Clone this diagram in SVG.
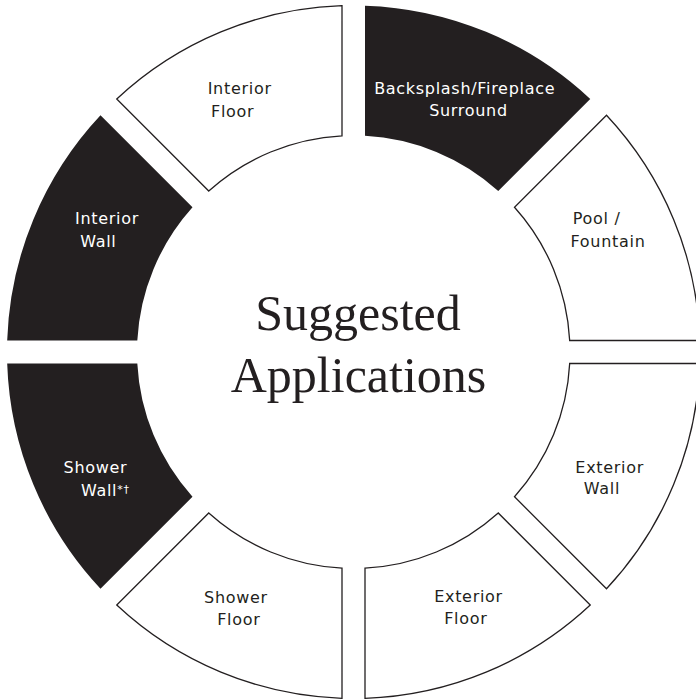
<svg xmlns="http://www.w3.org/2000/svg" width="696" height="699" viewBox="0 0 696 699">
<style>
.dark{fill:#231f20;stroke:none}
.light{fill:#fff;stroke:#231f20;stroke-width:1.3;stroke-linejoin:miter}
.lbl{font-family:"DejaVu Sans","Liberation Sans",sans-serif;font-size:16px;letter-spacing:0.7px;text-anchor:middle}
.lbl-d{fill:#fff}
.lbl-l{fill:#231f20}
.title{font-family:"Liberation Serif","Times New Roman",serif;font-size:50px;fill:#231f20;text-anchor:middle}
</style>
<rect width="696" height="699" fill="#fff"/>
<g id="backsplash">
<path class="dark" d="M365 5.69 A346.5 346.5 0 0 1 590.25 98.99 L498.24 191 A216.5 216.5 0 0 0 365 135.81 Z"/>
<text class="lbl lbl-d" x="464.7" y="94.3">Backsplash/Fireplace</text>
<text class="lbl lbl-d" x="468.5" y="116">Surround</text>
</g>
<g id="pool-fountain">
<path class="light" d="M606.51 115.25 A346.5 346.5 0 0 1 699.81 340.5 L569.69 340.5 A216.5 216.5 0 0 0 514.5 207.26 Z"/>
<text class="lbl lbl-l" x="596.7" y="224">Pool /</text>
<text class="lbl lbl-l" x="608" y="246.7">Fountain</text>
</g>
<g id="exterior-wall">
<path class="light" d="M699.81 363.5 A346.5 346.5 0 0 1 606.51 588.75 L514.5 496.74 A216.5 216.5 0 0 0 569.69 363.5 Z"/>
<text class="lbl lbl-l" x="609.7" y="472.7">Exterior</text>
<text class="lbl lbl-l" x="602" y="494.3">Wall</text>
</g>
<g id="exterior-floor">
<path class="light" d="M590.25 605.01 A346.5 346.5 0 0 1 365 698.31 L365 568.19 A216.5 216.5 0 0 0 498.24 513 Z"/>
<text class="lbl lbl-l" x="468.5" y="601.7">Exterior</text>
<text class="lbl lbl-l" x="465.8" y="624.3">Floor</text>
</g>
<g id="shower-floor">
<path class="light" d="M342 698.31 A346.5 346.5 0 0 1 116.75 605.01 L208.76 513 A216.5 216.5 0 0 0 342 568.19 Z"/>
<text class="lbl lbl-l" x="236" y="602.7">Shower</text>
<text class="lbl lbl-l" x="238.8" y="625">Floor</text>
</g>
<g id="shower-wall">
<path class="dark" d="M100.49 588.75 A346.5 346.5 0 0 1 7.19 363.5 L137.31 363.5 A216.5 216.5 0 0 0 192.5 496.74 Z"/>
<text class="lbl lbl-d" x="95.5" y="473.3">Shower</text>
<text class="lbl lbl-d" x="105.3" y="495.7">Wall<tspan font-size="11" dy="-3">*†</tspan></text>
</g>
<g id="interior-wall">
<path class="dark" d="M7.19 340.5 A346.5 346.5 0 0 1 100.49 115.25 L192.5 207.26 A216.5 216.5 0 0 0 137.31 340.5 Z"/>
<text class="lbl lbl-d" x="107" y="224">Interior</text>
<text class="lbl lbl-d" x="98.3" y="246.7">Wall</text>
</g>
<g id="interior-floor">
<path class="light" d="M116.75 98.99 A346.5 346.5 0 0 1 342 5.69 L342 135.81 A216.5 216.5 0 0 0 208.76 191 Z"/>
<text class="lbl lbl-l" x="239.7" y="94">Interior</text>
<text class="lbl lbl-l" x="232.7" y="117">Floor</text>
</g>
<g id="title">
<text class="title" x="358" y="330">Suggested</text>
<text class="title" x="358.5" y="391.7">Applications</text>
</g>
</svg>
